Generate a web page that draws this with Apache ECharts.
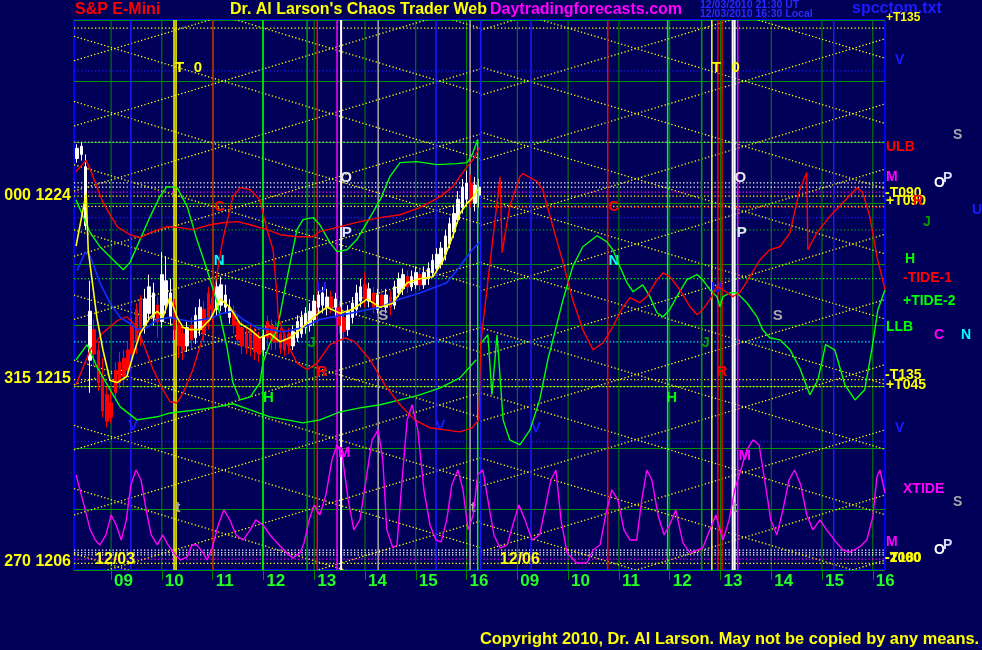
<!DOCTYPE html>
<html><head><meta charset="utf-8">
<script src="https://cdn.jsdelivr.net/npm/echarts@6/dist/echarts.min.js"></script>
<style>html,body{margin:0;padding:0;background:#000058;}#c{width:982px;height:650px;}</style>
</head><body><div id="c"></div>
<script>
// ---------- DATA ----------
const xMin = -0.73, xMax = 15.24;          // hours from 09:00 12/03 (12/06 09:00 = 8)
const yMin = 1206, yMax = 1233;
const hourTicks = [0,1,2,3,4,5,6,7,8,9,10,11,12,13,14,15];
const hourLabels = ['09','10','11','12','13','14','15','16','09','10','11','12','13','14','15','16'];
const priceTicks = [1206, 1215, 1224];
const angleLabels = ['270', '315', '000'];

// 5-minute bars, 12/03, first bar 08:20
const barStart = -0.667, barStep = 1 / 12;
const candles = [ // [open, close, low, high]
 [1226.2,1226.7,1226.0,1226.9],[1226.4,1226.8,1226.1,1227.0],[1222.9,1225.8,1222.7,1226.4],[1216.3,1218.7,1214.7,1220.2],
 [1217.8,1216.6,1216.0,1218.3],[1216.8,1215.2,1214.8,1217.2],[1215.5,1213.8,1213.5,1216.4],[1214.6,1213.3,1213.0,1215.0],
 [1214.2,1213.5,1213.2,1214.8],[1215.8,1214.7,1214.3,1216.2],[1216.2,1215.2,1214.9,1216.7],[1216.4,1215.5,1215.0,1216.8],
 [1216.8,1215.8,1215.5,1217.2],[1218.0,1216.6,1216.2,1218.4],[1218.8,1217.2,1216.6,1219.1],[1219.3,1217.8,1217.0,1219.5],
 [1218.0,1219.3,1217.6,1219.8],[1218.6,1219.9,1218.2,1220.5],[1218.4,1219.6,1218.0,1220.1],[1219.0,1218.2,1217.4,1219.4],
 [1218.2,1220.5,1217.9,1221.6],[1219.0,1220.2,1218.6,1221.4],[1218.4,1219.6,1218.0,1220.3],[1219.0,1217.8,1217.3,1219.3],
 [1218.0,1217.0,1216.4,1218.3],[1217.6,1216.8,1216.3,1218.0],[1217.0,1217.9,1216.7,1218.2],[1218.0,1217.3,1216.9,1218.4],
 [1217.4,1218.5,1217.1,1218.9],[1217.8,1218.9,1217.5,1219.3],[1218.8,1217.6,1217.2,1219.2],[1219.6,1218.2,1217.8,1219.9],
 [1219.4,1218.4,1217.9,1219.8],[1218.8,1219.9,1218.5,1220.3],[1219.0,1220.0,1218.7,1220.4],[1218.9,1219.5,1218.6,1220.0],
 [1218.4,1218.9,1218.1,1219.3],[1218.7,1218.0,1217.6,1219.0],[1218.2,1217.3,1217.0,1218.5],[1217.9,1217.0,1216.6,1218.2],
 [1217.6,1216.9,1216.6,1217.9],[1217.8,1216.9,1216.5,1218.1],[1217.6,1216.7,1216.3,1217.9],[1217.4,1216.6,1216.2,1217.7],
 [1216.8,1217.5,1216.5,1217.8],[1218.2,1217.4,1217.0,1218.5],[1218.0,1217.2,1216.8,1218.3],[1217.9,1217.2,1216.8,1218.2],
 [1217.6,1216.9,1216.6,1217.9],[1217.5,1216.8,1216.5,1217.8],[1217.6,1217.0,1216.6,1217.9],[1217.0,1217.7,1216.8,1218.0],
 [1217.4,1218.2,1217.2,1218.5],[1217.6,1218.4,1217.4,1218.7],[1217.9,1218.6,1217.6,1218.9],[1218.0,1218.7,1217.7,1219.1],
 [1218.3,1219.2,1218.0,1219.5],[1218.9,1219.5,1218.6,1219.9],[1219.0,1219.6,1218.6,1219.9],[1218.9,1219.4,1218.5,1219.8],
 [1219.4,1218.9,1218.6,1219.7],[1218.9,1219.3,1218.4,1219.6],[1218.9,1218.0,1217.6,1219.2],[1218.4,1217.7,1217.3,1218.6],
 [1217.8,1218.7,1217.5,1219.0],[1218.4,1219.1,1218.1,1219.4],[1218.8,1219.6,1218.5,1220.0],[1219.2,1219.9,1218.9,1220.3],
 [1220.0,1219.3,1218.9,1220.6],[1219.2,1219.8,1218.9,1220.1],[1219.6,1218.9,1218.6,1219.9],[1218.8,1219.5,1218.6,1219.8],
 [1219.5,1219.0,1218.6,1219.8],[1218.9,1219.5,1218.6,1219.8],[1219.4,1218.9,1218.5,1219.7],[1219.0,1219.9,1218.8,1220.2],
 [1219.6,1220.3,1219.4,1220.6],[1219.8,1220.5,1219.5,1220.8],[1220.4,1219.9,1219.6,1220.7],[1219.9,1220.4,1219.7,1220.7],
 [1220.0,1220.6,1219.8,1220.9],[1220.5,1220.0,1219.7,1220.8],[1220.0,1220.6,1219.8,1220.9],[1220.3,1220.8,1220.0,1221.1],
 [1220.6,1221.2,1220.4,1221.5],[1220.8,1221.5,1220.6,1221.8],[1221.0,1221.8,1220.8,1222.1],[1221.5,1222.4,1221.2,1222.7],
 [1222.0,1223.0,1221.8,1223.3],[1222.6,1223.5,1222.3,1223.9],[1223.2,1224.2,1223.0,1224.6],[1223.8,1224.8,1223.5,1225.2],
 [1224.2,1225.0,1223.9,1225.6],[1225.0,1224.1,1223.8,1225.4],[1224.0,1224.9,1223.6,1225.3],[1224.4,1224.8,1223.8,1225.2]
];

const yellowAvg = [[-0.69,1221.9],[-0.49,1224.5],[-0.45,1221.7],[-0.28,1218.4],[-0.16,1216.8],[-0.02,1215.3],[0.12,1215.2],[0.31,1215.5],[0.43,1216.5],[0.57,1217.6],[0.77,1218.4],[0.91,1218.7],[1.02,1218.4],[1.16,1219.4],[1.30,1218.4],[1.42,1217.9],[1.56,1217.8],[1.75,1217.8],[1.95,1218.3],[2.15,1219.3],[2.34,1218.9],[2.54,1218.1],[2.74,1217.8],[2.93,1217.4],[3.13,1217.6],[3.33,1217.2],[3.52,1217.4],[3.72,1217.8],[3.98,1218.4],[4.25,1218.9],[4.51,1218.6],[4.76,1218.8],[5.04,1219.3],[5.30,1218.9],[5.55,1219.1],[5.83,1220.1],[6.08,1220.3],[6.34,1220.4],[6.54,1221.2],[6.73,1222.4],[6.87,1223.5],[7.01,1224.0],[7.13,1224.3],[7.22,1224.7]];

const blueLine = [[-0.67,1220.7],[-0.51,1221.6],[-0.41,1221.4],[-0.22,1220.1],[-0.02,1219.1],[0.18,1218.4],[0.37,1218.1],[0.51,1217.8],[0.71,1217.9],[0.91,1218.3],[1.16,1218.4],[1.36,1218.3],[1.56,1218.2],[1.81,1218.3],[2.01,1218.4],[2.20,1218.6],[2.40,1218.7],[2.60,1218.3],[2.87,1217.9],[3.13,1217.8],[3.39,1217.7],[3.78,1217.9],[4.11,1218.3],[4.51,1218.5],[4.90,1218.7],[5.30,1218.9],[5.69,1219.3],[6.08,1219.6],[6.61,1220.1],[6.87,1220.9],[7.07,1221.6],[7.26,1222.1]];

const redUpper = [[-0.69,1225.56],[-0.49,1226.10],[-0.41,1225.66],[-0.16,1224.03],[0.12,1222.86],[0.37,1222.46],[0.57,1222.31],[0.77,1222.56],[1.10,1222.86],[1.36,1222.81],[1.61,1222.71],[1.95,1222.95],[2.20,1223.05],[2.48,1223.10],[2.74,1222.95],[3.07,1222.71],[3.33,1222.46],[3.66,1222.36],[3.98,1222.36],[4.11,1222.61],[4.51,1222.86],[4.90,1223.10],[5.30,1223.30],[5.69,1223.44],[6.08,1223.79],[6.48,1224.33],[6.73,1224.82],[7.01,1225.80],[7.13,1226.15],[7.26,1226.74]];

const redLower = [[-0.69,1215.09],[-0.41,1216.81],[-0.16,1217.65],[0.12,1218.24],[0.31,1218.43],[0.51,1217.94],[0.63,1217.15],[0.83,1215.83],[1.02,1214.85],[1.16,1214.26],[1.30,1214.21],[1.42,1214.70],[1.61,1215.83],[1.81,1217.45],[2.01,1219.42],[2.20,1222.22],[2.40,1224.33],[2.54,1224.77],[2.74,1224.67],[2.93,1224.18],[3.07,1222.71],[3.19,1221.72],[3.27,1219.42],[3.29,1218.43],[3.46,1217.15],[3.66,1216.17],[3.86,1215.83],[4.06,1216.17],[4.31,1217.06],[4.61,1217.40],[4.80,1217.20],[5.10,1216.32],[5.39,1215.09],[5.69,1214.11],[5.98,1213.37],[6.28,1212.98],[6.57,1212.88],[6.87,1212.78],[7.11,1212.98],[7.24,1213.37],[7.28,1217.15],[7.66,1225.31],[7.70,1221.58],[7.85,1223.84],[8.05,1225.31],[8.11,1225.46],[8.39,1225.07],[8.50,1224.67],[8.70,1222.86],[8.90,1221.09],[9.09,1219.27],[9.29,1217.79],[9.49,1216.81],[9.69,1217.15],[9.88,1217.94],[10.08,1218.92],[10.22,1219.37],[10.41,1219.12],[10.55,1219.42],[10.75,1220.25],[10.87,1220.59],[11.00,1220.40],[11.20,1219.76],[11.40,1218.92],[11.54,1218.53],[11.65,1218.78],[11.79,1219.27],[11.93,1219.91],[12.05,1219.76],[12.24,1219.42],[12.38,1219.61],[12.58,1220.40],[12.78,1221.23],[12.97,1221.72],[13.17,1221.87],[13.37,1222.56],[13.56,1224.67],[13.70,1225.51],[13.72,1221.72],[13.90,1222.56],[14.15,1223.35],[14.41,1224.03],[14.69,1224.77],[14.80,1224.53],[14.94,1223.35],[15.08,1221.38],[15.24,1219.76]];

const greenUpperDay1 = [[-0.69,1224.18],[-0.55,1223.35],[-0.41,1222.56],[-0.22,1221.87],[0.04,1221.23],[0.24,1220.74],[0.37,1221.09],[0.57,1222.22],[0.77,1223.35],[0.96,1224.33],[1.10,1224.82],[1.30,1224.77],[1.50,1223.84],[1.69,1222.22],[1.89,1220.74],[2.09,1219.12],[2.28,1216.96],[2.40,1215.19],[2.54,1214.35],[2.74,1214.50],[2.93,1215.19],[2.99,1216.17],[3.13,1217.15],[3.27,1217.79],[3.46,1220.25],[3.66,1222.71],[3.78,1223.20],[3.98,1223.30],[4.11,1222.95],[4.31,1222.07],[4.45,1221.63],[4.65,1221.72],[4.84,1222.22],[5.04,1223.05],[5.30,1224.18],[5.49,1225.31],[5.69,1226.00],[6.02,1226.05],[6.42,1225.90],[6.81,1225.95],[7.01,1226.00],[7.11,1226.39],[7.22,1227.13],[7.22,1206.0]];

const greenUpperDay2 = [[7.26,1217.06],[7.42,1217.55],[7.50,1214.60],[7.60,1217.55],[7.72,1213.37],[7.85,1212.39],[8.05,1212.14],[8.25,1212.88],[8.44,1214.35],[8.60,1216.32],[8.70,1217.30],[8.90,1219.27],[9.09,1220.89],[9.29,1221.87],[9.57,1222.41],[9.76,1222.12],[9.88,1221.72],[10.02,1220.89],[10.16,1220.10],[10.28,1219.66],[10.47,1220.00],[10.61,1219.42],[10.75,1218.63],[10.87,1218.43],[11.00,1218.78],[11.14,1219.42],[11.34,1220.25],[11.54,1220.50],[11.65,1220.25],[11.79,1219.76],[11.93,1219.42],[11.99,1218.92],[12.05,1219.42],[12.19,1219.61],[12.32,1219.61],[12.52,1219.12],[12.72,1218.43],[12.83,1217.79],[12.97,1217.40],[13.17,1217.30],[13.37,1216.81],[13.56,1215.93],[13.76,1214.60],[13.92,1215.34],[14.07,1217.06],[14.25,1216.81],[14.45,1215.09],[14.65,1214.35],[14.84,1214.85],[14.98,1216.81],[15.10,1218.78],[15.24,1219.76]];

const greenLower = [[-0.69,1216.32],[-0.47,1217.06],[-0.28,1215.98],[-0.02,1214.85],[0.18,1214.01],[0.51,1213.37],[0.91,1213.52],[1.16,1213.71],[1.69,1213.86],[2.09,1214.01],[2.40,1214.16],[2.74,1213.86],[3.13,1213.52],[3.46,1213.37],[3.78,1213.22],[4.11,1213.37],[4.51,1213.76],[4.90,1213.96],[5.30,1214.11],[5.69,1214.35],[6.08,1214.60],[6.48,1214.94],[6.87,1215.43],[7.19,1216.32]];

const xtide = [[-0.69,1210.67],[-0.61,1209.93],[-0.51,1208.95],[-0.41,1207.97],[-0.31,1207.47],[-0.22,1207.23],[-0.10,1207.72],[0,1208.70],[0.10,1208.21],[0.20,1207.47],[0.30,1208.46],[0.39,1210.18],[0.49,1210.91],[0.59,1210.42],[0.69,1208.95],[0.79,1207.72],[0.91,1207.23],[1.02,1207.72],[1.12,1207.23],[1.24,1206.84],[1.36,1206.49],[1.50,1206.64],[1.59,1207.23],[1.69,1207.23],[1.81,1206.84],[1.89,1206.49],[1.99,1207.08],[2.11,1208.21],[2.22,1208.95],[2.34,1208.46],[2.46,1207.72],[2.60,1207.47],[2.74,1207.97],[2.85,1208.46],[2.99,1208.21],[3.13,1207.72],[3.27,1207.33],[3.46,1206.84],[3.58,1206.59],[3.72,1206.84],[3.80,1207.33],[3.90,1208.46],[4.00,1209.19],[4.11,1208.70],[4.23,1209.69],[4.35,1211.41],[4.45,1212.14],[4.55,1211.65],[4.67,1209.44],[4.78,1207.97],[4.90,1208.46],[5.02,1210.42],[5.14,1212.39],[5.26,1212.88],[5.35,1211.41],[5.43,1207.97],[5.55,1207.08],[5.63,1207.23],[5.73,1210.42],[5.83,1213.37],[5.93,1214.11],[6.04,1212.88],[6.16,1209.93],[6.28,1208.21],[6.40,1207.47],[6.50,1207.38],[6.61,1208.46],[6.71,1210.18],[6.83,1210.91],[6.93,1209.93],[7.03,1207.97],[7.13,1208.70],[7.22,1210.67],[7.32,1210.91],[7.42,1209.44],[7.54,1207.72],[7.66,1207.08],[7.80,1207.23],[7.91,1208.21],[8.03,1209.19],[8.15,1208.46],[8.29,1207.47],[8.44,1207.72],[8.56,1209.19],[8.66,1210.42],[8.76,1210.91],[8.86,1208.46],[8.98,1206.84],[9.17,1206.34],[9.37,1206.34],[9.49,1206.98],[9.63,1207.23],[9.74,1208.70],[9.86,1209.93],[9.98,1209.44],[10.10,1207.97],[10.22,1207.47],[10.35,1207.47],[10.45,1209.44],[10.55,1210.91],[10.65,1210.42],[10.77,1208.70],[10.89,1207.72],[11.00,1208.21],[11.12,1208.95],[11.26,1207.33],[11.40,1206.84],[11.54,1206.98],[11.65,1207.08],[11.79,1207.97],[11.91,1208.70],[12.05,1207.47],[12.17,1208.46],[12.28,1209.93],[12.40,1210.91],[12.52,1211.90],[12.64,1212.39],[12.76,1212.14],[12.87,1210.42],[12.99,1208.46],[13.11,1207.72],[13.23,1208.95],[13.35,1210.42],[13.46,1210.91],[13.58,1210.18],[13.70,1208.70],[13.82,1207.97],[13.96,1208.46],[14.09,1207.97],[14.29,1207.33],[14.41,1206.98],[14.55,1206.88],[14.74,1207.13],[14.88,1207.47],[15.00,1208.60],[15.08,1210.57],[15.14,1210.91],[15.24,1209.78]];

// vertical event lines (hours)
const eventTimes = [0.39,1.24,1.28,2.01,2.99,3.86,4.06,4.45,4.53,5.26,6.40,7.07,7.28,8.27,9.78,10.96,11.63,11.83,11.95,12.03,12.24,12.28,12.34,14.23];
// horizontal level lines: price, from, to (hours)
const levelPrices = [1232.6,1230.5,1227.0,1225.0,1224.8,1224.55,1224.35,1223.85,1223.8,1223.3,1222.7,1220.3,1217.2,1215.35,1215.0,1212.3,1206.98,1206.85,1206.74,1206.53,1206.33];
const levelFrom   = [-0.73,-0.73,-0.73,-0.73,-0.73,-0.73,-0.73,-0.73,7.27,-0.73,-0.73,-0.73,-0.73,-0.73,-0.73,-0.73,-0.73,-0.73,-0.73,-0.73,-0.73];
const levelTo     = [15.24,15.24,15.24,15.24,15.24,15.24,15.24,15.24,15.24,15.24,15.24,15.24,15.24,15.24,15.24,15.24,15.24,15.24,15.24,15.24,15.24];

// angle lattice: price at start of each day segment, slope in points per hour
const latticeSlope = 0.75;
const latticeDay1 = [-0.73, 7.27];
const latticeDay2 = [7.27, 15.24];
const latticeFall1 = [1206.8,1210.0,1213.1,1216.3,1219.5,1222.7,1225.9,1229.0,1232.2,1235.4,1238.6];
const latticeRise1 = [1202.4,1205.5,1208.7,1211.9,1215.1,1218.3,1221.4,1224.6,1227.8,1231.0];
const latticeFall2 = [1208.3,1211.5,1214.7,1217.9,1221.1,1224.3,1227.5,1230.7,1233.9,1237.1];
const latticeRise2 = [1200.5,1203.7,1206.9,1210.1,1213.3,1216.5,1219.7,1222.9,1226.1,1229.3,1232.5];

// in-chart letters
const letterTexts = ['T','0','T','0','O','P','O','P','C','N','C','N','R','R','H','H','V','V','V','M','M','S','S','U','U','J','J','t','t','t','12/03','12/06'];
const letterPoints = [[1.35,1230.64],[1.71,1230.64],[11.92,1230.64],[12.30,1230.64],[4.63,1225.24],[4.64,1222.56],[12.39,1225.26],[12.42,1222.56],[2.14,1223.84],[2.13,1221.16],[9.90,1223.84],[9.90,1221.16],[4.15,1215.73],[12.03,1215.73],[3.10,1214.43],[11.04,1214.43],[0.43,1213.08],[6.48,1213.08],[8.37,1213.0],[4.59,1211.75],[12.48,1211.6],[5.36,1218.48],[13.13,1218.48],[4.14,1219.86],[11.92,1219.86],[3.95,1217.15],[11.71,1217.15],[1.32,1209.05],[7.13,1209.05],[12.28,1209.05],[0.08,1206.49],[8.05,1206.49]];

// ---------- STYLES ----------
const C = {yel:'#ffff00', red:'#ff0000', grn:'#00ff00', dgrn:'#00a000', blu:'#1a1aff', mag:'#ff00ff', cya:'#00ffff', wht:'#ffffff', gry:'#a8a8a8'};
const eventColors = [C.blu,C.yel,C.yel,C.red,C.grn,C.dgrn,C.red,C.mag,C.wht,C.gry,C.blu,C.gry,C.blu,C.blu,C.red,C.grn,C.dgrn,C.yel,C.red,C.red,C.wht,C.wht,C.mag,C.blu];
const levelColors = [C.yel,C.blu,'#c8c8c8',C.wht,C.wht,C.mag,C.yel,C.yel,C.red,C.blu,C.dgrn,C.grn,C.cya,C.yel,C.yel,C.blu,C.wht,C.wht,C.wht,C.mag,C.yel];
const letterColors = [C.yel,C.yel,C.yel,C.yel,'#e8e8e8','#e0e0ff','#e8e8e8','#e0e0ff',C.red,C.cya,C.red,C.cya,C.red,C.red,C.grn,C.grn,C.blu,C.blu,C.blu,C.mag,C.mag,C.gry,C.gry,C.blu,C.blu,C.dgrn,C.dgrn,C.gry,C.gry,C.gry,C.yel,C.yel];
const DOT = [1.3, 2.2];
const FONT = '"Liberation Sans", Arial, sans-serif';

// ---------- BUILD ----------
function segSeries(segs, styles) {
  return {
    type: 'custom', coordinateSystem: 'cartesian2d', clip: true, silent: true, animation: false,
    data: segs, encode: {x: [0, 2], y: [1, 3]},
    renderItem: function (params, api) {
      const a = api.coord([api.value(0), api.value(1)]);
      const b = api.coord([api.value(2), api.value(3)]);
      const s = styles[params.dataIndex];
      return {type: 'line', shape: {x1: a[0], y1: a[1], x2: b[0], y2: b[1]},
        style: {stroke: s.color, lineWidth: s.width, lineDash: s.dash || null}};
    }
  };
}
const hourSegs = hourTicks.map(h => [h, yMin, h, yMax]);
const hourStyles = hourTicks.map(() => ({color: '#008a00', width: 1}));

const eventSegs = eventTimes.map(t => [t, yMin, t, yMax]);
const eventStyles = eventColors.map(c => ({color: c, width: c === C.wht ? 2 : 1.5}));

const levelSegs = levelPrices.map((p, i) => [levelFrom[i], p, levelTo[i], p]);
const levelStyles = levelColors.map(c => ({color: c, width: 1.3, dash: DOT}));

const latSegs = [], latStyles = [];
function addLattice(starts, day, dir) {
  starts.forEach(p => {
    latSegs.push([day[0], p, day[1], p + dir * latticeSlope * (day[1] - day[0])]);
    latStyles.push({color: C.yel, width: 1.3, dash: DOT});
  });
}
addLattice(latticeFall1, latticeDay1, -1);
addLattice(latticeRise1, latticeDay1, 1);
addLattice(latticeFall2, latticeDay2, -1);
addLattice(latticeRise2, latticeDay2, 1);

function lineSeries(data, color, width) {
  return {type: 'line', data: data, symbol: 'none', showSymbol: false, clip: true, silent: true,
    animation: false, lineStyle: {color: color, width: width || 1.4}};
}

const outsideTexts = [
  ['S&P E-Mini', 75, 2, C.red, 16], ["Dr. Al Larson's Chaos Trader Web", 230, 2, C.yel, 16],
  ['Daytradingforecasts.com', 490, 2, C.mag, 16],
  ['12/03/2010 21:30 UT', 700, 0, '#2a2aff', 10.5], ['12/03/2010 16:30 Local', 700, 9, '#2a2aff', 10.5],
  ['spcctom.txt', 852, 1, '#1c1cff', 16], ['+T135', 886, 12, C.yel, 12],
  ['V', 895, 53, C.blu, 14], ['S', 953, 128, C.gry, 14], ['ULB', 886, 140, C.red, 14],
  ['M', 886, 170, C.mag, 14], ['O', 934, 176, C.wht, 14], ['P', 943, 171, '#d8d8ff', 14],
  ['-T090', 885, 186, C.yel, 14], ['+T090', 886, 194, C.yel, 14], ['R', 913, 194, C.red, 14],
  ['U', 972, 203, C.blu, 14], ['J', 923, 215, C.dgrn, 14], ['H', 905, 252, C.grn, 14],
  ['-TIDE-1', 903, 271, C.red, 14], ['+TIDE-2', 903, 294, C.grn, 14], ['LLB', 886, 320, C.grn, 14],
  ['C', 934, 328, C.mag, 14], ['N', 961, 328, C.cya, 14],
  ['-T135', 885, 368, C.yel, 14], ['+T045', 886, 378, C.yel, 14], ['V', 895, 421, C.blu, 14],
  ['XTIDE', 903, 482, C.mag, 14], ['S', 953, 495, C.gry, 14], ['M', 886, 535, C.mag, 14],
  ['O', 934, 543, C.wht, 14], ['P', 943, 538, '#d8d8ff', 14],
  ['-T180', 885, 551, C.yel, 14], ['-2000', 885, 551, C.yel, 14],
  ['Copyright 2010, Dr. Al Larson. May not be copied by any means.', 480, 631, C.yel, 16.4]
];

const chart = echarts.init(document.getElementById('c'), null, {renderer: 'canvas'});
chart.setOption({
  backgroundColor: '#000058',
  animation: false,
  grid: {left: 74, right: 97, top: 20, bottom: 80, show: true, borderColor: '#0000ff', borderWidth: 2, backgroundColor: 'transparent'},
  xAxis: {
    type: 'value', min: xMin, max: xMax,
    axisLine: {show: false}, splitLine: {show: false},
    axisTick: {show: true, customValues: hourTicks, length: 10, lineStyle: {color: '#008a00', width: 1}},
    axisLabel: {customValues: hourTicks, formatter: v => hourLabels[hourTicks.indexOf(v)] || '',
      color: '#22ff22', fontSize: 17, fontWeight: 'bold', fontFamily: FONT, align: 'left', margin: 3, padding: [0, 0, 0, 3]}
  },
  yAxis: {
    type: 'value', min: yMin, max: yMax, interval: 3,
    axisLine: {show: false}, axisTick: {show: false},
    splitLine: {show: true, lineStyle: {color: '#009000', width: 1}},
    axisLabel: {formatter: v => { const i = priceTicks.indexOf(v); return i < 0 ? '' : angleLabels[i] + ' ' + v; },
      color: C.yel, fontSize: 16, fontWeight: 'bold', fontFamily: FONT, verticalAlign: 'bottom', margin: 3}
  },
  graphic: outsideTexts.map(t => ({type: 'text', left: t[1], top: t[2], silent: true,
    style: {text: t[0], fill: t[3], font: 'bold ' + t[4] + 'px ' + FONT}})),
  series: [
    segSeries(hourSegs, hourStyles),
    segSeries(levelSegs, levelStyles),
    segSeries(latSegs, latStyles),
    segSeries(eventSegs, eventStyles),
    {
      type: 'candlestick', silent: true, animation: false, barWidth: 3,
      data: candles.map((c, i) => [barStart + i * barStep, c[0], c[1], c[2], c[3]]),
      encode: {x: 0, y: [1, 2, 3, 4]},
      itemStyle: {color: '#ffffff', color0: '#ff0000', borderColor: '#ffffff', borderColor0: '#ff0000', borderWidth: 1}
    },
    lineSeries(greenLower, C.grn, 1.4),
    lineSeries(greenUpperDay1, C.grn, 1.4),
    lineSeries(greenUpperDay2, C.grn, 1.4),
    lineSeries(redUpper, C.red, 1.4),
    lineSeries(redLower, C.red, 1.4),
    lineSeries(blueLine, '#1030ff', 1.6),
    lineSeries(yellowAvg, C.yel, 1.6),
    lineSeries(xtide, C.mag, 1.4),
    {
      type: 'custom', coordinateSystem: 'cartesian2d', silent: true, animation: false, clip: false,
      data: letterPoints, encode: {x: 0, y: 1},
      renderItem: function (params, api) {
        const p = api.coord([api.value(0), api.value(1)]);
        const txt = letterTexts[params.dataIndex];
        return {type: 'text', x: p[0], y: p[1], z2: 100,
          style: {text: txt, fill: letterColors[params.dataIndex],
            font: 'bold ' + (txt.length > 2 ? 16 : 15) + 'px ' + FONT, align: 'center', verticalAlign: 'middle'}};
      }
    }
  ]
});
</script></body></html>
